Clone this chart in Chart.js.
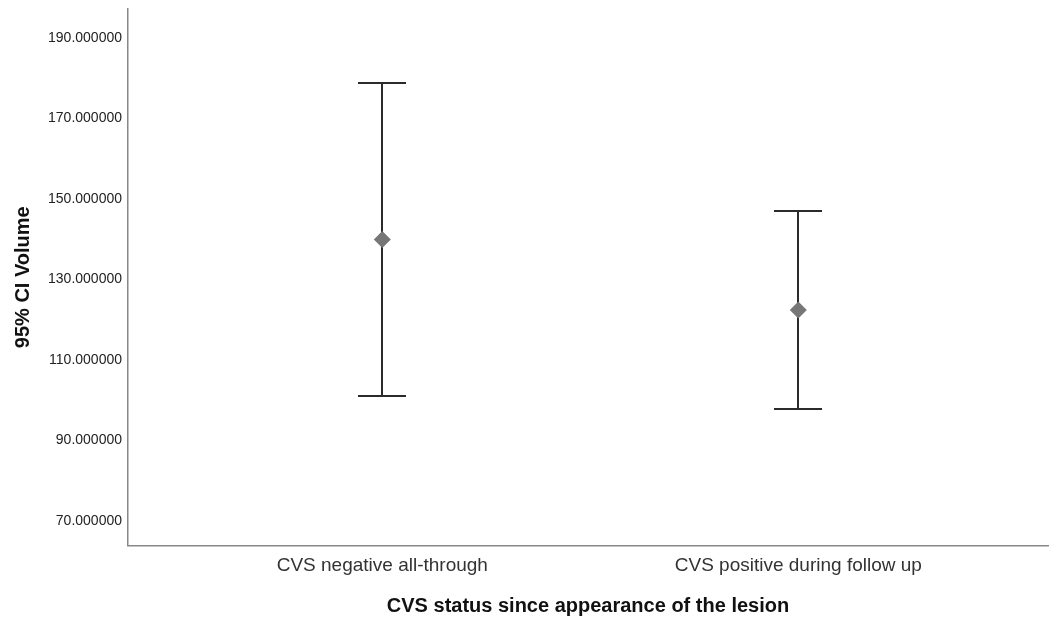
<!DOCTYPE html>
<html>
<head>
<meta charset="utf-8">
<script src="https://cdn.jsdelivr.net/npm/chart.js@4.4.0/dist/chart.umd.min.js"></script>
<style>
  html, body { margin: 0; padding: 0; background: #fff; }
  #wrap { width: 1050px; height: 618px; }
</style>
</head>
<body>
<div id="wrap"><canvas id="c" width="1050" height="618"></canvas></div>
<script>
// ---- data ----
const categories = ["CVS negative all-through", "CVS positive during follow up"];
const categoryPos = [1, 2];
const meanValues = [139.9, 122.4];
const lowerCI = [101.0, 97.8];
const upperCI = [178.8, 147.0];
const yTickValues = [70, 90, 110, 130, 150, 170, 190];
const yTitle = "95% CI Volume";
const xTitle = "CVS status since appearance of the lesion";

const errorBarPlugin = {
  id: 'errorBars',
  beforeDatasetsDraw(chart) {
    const ctx = chart.ctx;
    const xs = chart.scales.x, ys = chart.scales.y;
    ctx.save();
    ctx.strokeStyle = '#2b2b2b';
    ctx.lineWidth = 2;
    const capHalf = 24;
    for (let i = 0; i < categoryPos.length; i++) {
      const x = Math.round(xs.getPixelForValue(categoryPos[i]));
      const yHi = Math.round(ys.getPixelForValue(upperCI[i]));
      const yLo = Math.round(ys.getPixelForValue(lowerCI[i]));
      ctx.beginPath();
      ctx.moveTo(x, yHi); ctx.lineTo(x, yLo);
      ctx.moveTo(x - capHalf, yHi); ctx.lineTo(x + capHalf, yHi);
      ctx.moveTo(x - capHalf, yLo); ctx.lineTo(x + capHalf, yLo);
      ctx.stroke();
    }
    ctx.restore();
  }
};

new Chart(document.getElementById('c'), {
  type: 'scatter',
  data: {
    datasets: [{
      data: categoryPos.map((x, i) => ({ x: x, y: meanValues[i] })),
      pointStyle: 'rectRot',
      pointRadius: 8.5,
      pointHoverRadius: 8.5,
      backgroundColor: '#777777',
      borderColor: '#777777',
      borderWidth: 0
    }]
  },
  options: {
    responsive: false,
    animation: false,
    devicePixelRatio: 1,
    layout: { autoPadding: false, padding: { top: 9, right: 2, left: 0, bottom: 0 } },
    plugins: { legend: { display: false }, tooltip: { enabled: false } },
    scales: {
      x: {
        type: 'linear',
        min: 0.3887,
        max: 2.6002,
        grid: { display: false, drawTicks: false },
        border: { display: true, color: '#888888', width: 1.5 },
        afterBuildTicks(scale) { scale.ticks = categoryPos.map(v => ({ value: v })); },
        afterFit(scale) { scale.height = 72.5; scale.paddingLeft = 0; scale.paddingRight = 0; },
        ticks: {
          autoSkip: false, maxRotation: 0, padding: 9,
          color: '#333333',
          font: { family: 'Liberation Sans, Arial, sans-serif', size: 19 },
          callback(v) { const i = categoryPos.indexOf(v); return i >= 0 ? categories[i] : ''; }
        },
        title: {
          display: true, text: xTitle, color: '#111111',
          padding: { top: 0, bottom: 0 },
          font: { family: 'Liberation Sans, Arial, sans-serif', size: 20, weight: 'bold' }
        }
      },
      y: {
        type: 'linear',
        min: 63.88,
        max: 197.2,
        grid: { display: false, drawTicks: false },
        border: { display: true, color: '#888888', width: 1.5 },
        afterBuildTicks(scale) { scale.ticks = yTickValues.map(v => ({ value: v })); },
        afterFit(scale) { scale.width = 128; scale.paddingTop = 0; scale.paddingBottom = 0; },
        ticks: {
          padding: 6, color: '#222222',
          font: { family: 'Liberation Sans, Arial, sans-serif', size: 14 },
          callback(v) { return Number(v).toFixed(6); }
        },
        title: {
          display: true, text: yTitle, color: '#111111',
          padding: { top: 11, bottom: 0 },
          font: { family: 'Liberation Sans, Arial, sans-serif', size: 20, weight: 'bold' }
        }
      }
    }
  },
  plugins: [errorBarPlugin]
});
</script>
</body>
</html>
